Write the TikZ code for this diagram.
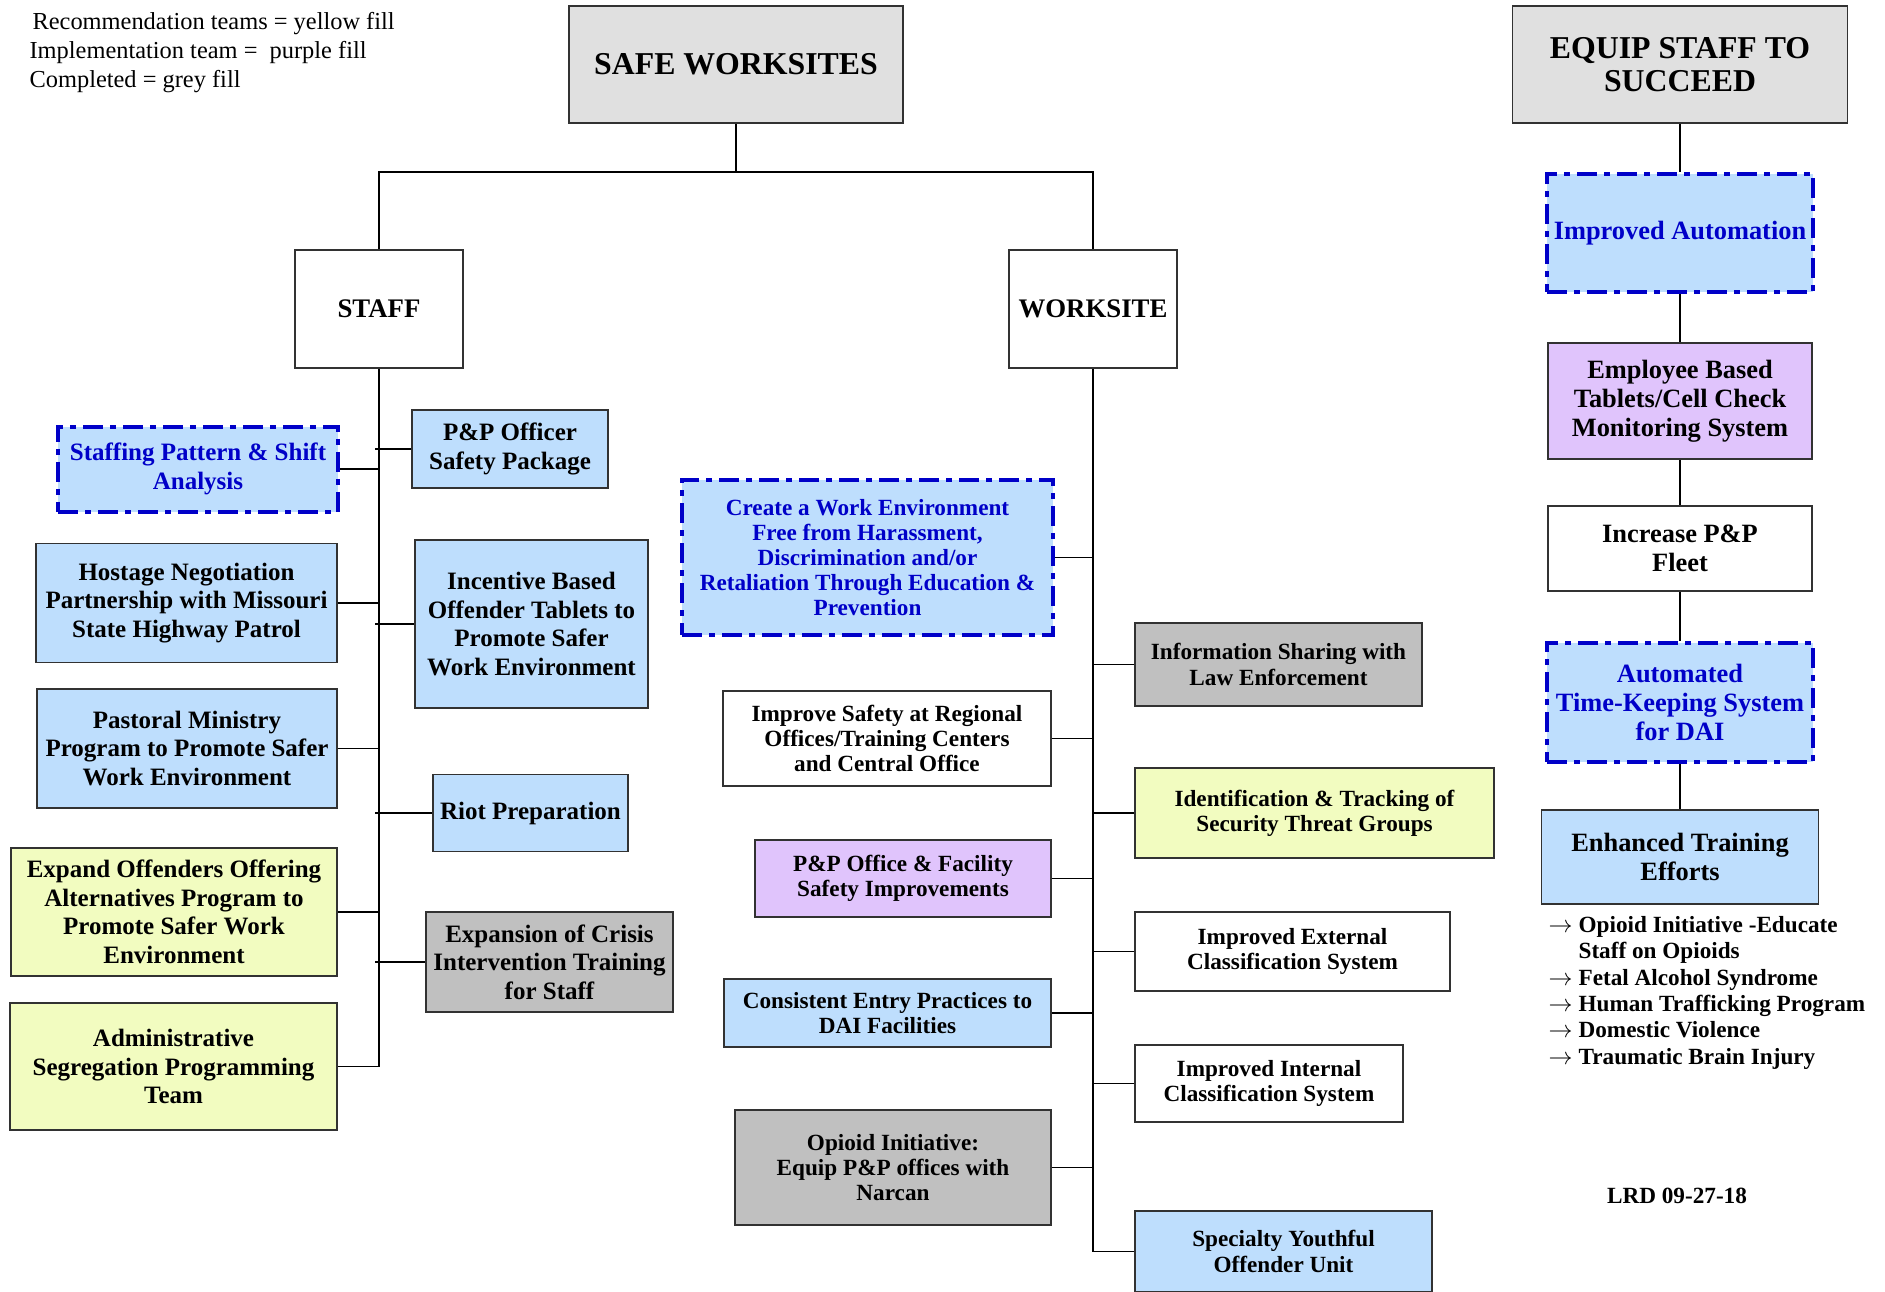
\documentclass[tikz,border=0pt]{standalone}
\usepackage{fontspec}
\setmainfont{Liberation Serif}
\usepackage{tikz}
\usetikzlibrary{positioning,calc}

\definecolor{recblue}{RGB}{190,222,253}
\definecolor{recyellow}{RGB}{242,252,192}
\definecolor{recpurple}{RGB}{224,196,252}
\definecolor{recdone}{RGB}{192,192,192}
\definecolor{headgrey}{RGB}{224,224,224}
\definecolor{planblue}{RGB}{0,0,200}
\definecolor{boxline}{RGB}{50,50,50}

\newcommand{\hdfont}{\fontsize{15.9}{16.8}\selectfont\bfseries}
\newcommand{\brfont}{\fontsize{13.4}{15}\selectfont\bfseries}
\newcommand{\stffont}{\fontsize{12.5}{14.3}\selectfont\bfseries}
\newcommand{\wsfont}{\fontsize{11.6}{12.6}\selectfont\bfseries}
\newcommand{\eqfont}{\fontsize{13.2}{14.4}\selectfont\bfseries}
\newcommand{\lstfont}{\fontsize{11.6}{13.2}\selectfont\bfseries}

\begin{document}
\begin{tikzpicture}[x=0.5pt, y=-0.5pt, semithick,
    wh/.style 2 args={minimum width=#1*0.5pt, minimum height=#2*0.5pt},
    box/.style={draw=boxline, line width=0.8pt, align=center, inner sep=1pt},
    head/.style={box, fill=headgrey, font=\hdfont},
    branch/.style={box, fill=white, font=\brfont},
    blue/.style={box, fill=recblue},
    yellow/.style={box, fill=recyellow},
    purple/.style={box, fill=recpurple},
    done/.style={box, fill=recdone},
    open/.style={box, fill=white},
    plan/.style={box, fill=recblue, draw=planblue, text=planblue, line width=2pt,
        dash pattern=on 10pt off 3.5pt on 3pt off 3.5pt},
    link/.style={draw=black, line width=0.75pt}]
        \useasboundingbox (0,0) rectangle (1885,1291);

        % legend
        \node[anchor=north west, align=left, inner sep=0pt,
              font=\fontsize{12.2}{14.5}\selectfont] (legend) at (29,11.6)
            {\hspace{1.5pt}Recommendation teams = yellow fill\\
             Implementation team = \ purple fill\\
             Completed = grey fill};

        % top of the chart
        \node[head, wh={334}{117}] (safe) at (736,64.5) {SAFE WORKSITES};
        \node[head, wh={335}{117}] (equip) at (1680,64.5) {EQUIP STAFF TO\\SUCCEED};
        \node[branch, wh={168}{118}] (staff) at (379,309) {STAFF};
        \node[branch, wh={168}{118}] (worksite) at (1093,309) {WORKSITE};
        \coordinate (bar) at (736,172);

        % staff side
        \node[plan, wh={280}{85}, font=\stffont] (shift) at (198,469) {Staffing Pattern \& Shift\\Analysis};
        \node[blue, wh={196}{78}, font=\stffont] (vest) at (510,449) {P\&P Officer\\Safety Package};
        \node[blue, wh={301}{119}, font=\stffont] (hostage) at (186.5,603) {Hostage Negotiation\\Partnership with Missouri\\State Highway Patrol};
        \node[blue, wh={233}{168}, font=\stffont] (tablets) at (531.5,624) {Incentive Based\\Offender Tablets to\\Promote Safer\\Work Environment};
        \node[blue, wh={300}{119}, font=\stffont] (pastor) at (187,748.5) {Pastoral Ministry\\Program to Promote Safer\\Work Environment};
        \node[blue, wh={195}{77}, font=\stffont] (riot) at (530.5,813) {Riot Preparation};
        \node[yellow, wh={326}{128}, font=\stffont] (offer) at (174,912) {Expand Offenders Offering\\Alternatives Program to\\Promote Safer Work\\Environment};
        \node[done, wh={247}{100}, font=\stffont] (crisis) at (549.5,962) {Expansion of Crisis\\Intervention Training\\for Staff};
        \node[yellow, wh={327}{127}, font=\stffont] (adseg) at (173.5,1066.5) {Administrative\\Segregation Programming\\Team};

        % worksite side
        \node[plan, wh={371}{155}, font=\wsfont] (harass) at (867.5,557.5) {Create a Work Environment\\Free from Harassment,\\Discrimination and/or\\Retaliation Through Education \&\\Prevention};
        \node[done, wh={287}{83}, font=\wsfont] (police) at (1278.5,664.5) {Information Sharing with\\Law Enforcement};
        \node[open, wh={328}{95}, font=\wsfont] (region) at (887,738.5) {Improve Safety at Regional\\Offices/Training Centers\\and Central Office};
        \node[yellow, wh={359}{90}, font=\wsfont] (gangs) at (1314.5,813) {Identification \& Tracking of\\Security Threat Groups};
        \node[purple, wh={296}{77}, font=\wsfont] (office) at (903,878.5) {P\&P Office \& Facility\\Safety Improvements};
        \node[open, wh={315}{79}, font=\wsfont] (extcls) at (1292.5,951.5) {Improved External\\Classification System};
        \node[blue, wh={327}{68}, font=\wsfont] (entry) at (887.5,1013) {Consistent Entry Practices to\\DAI Facilities};
        \node[open, wh={268}{77}, font=\wsfont] (intcls) at (1269,1083.5) {Improved Internal\\Classification System};
        \node[done, wh={316}{115}, font=\wsfont] (narcan) at (893,1167.5) {Opioid Initiative:\\Equip P\&P offices with\\Narcan};
        \node[blue, wh={297}{81}, font=\wsfont] (youth) at (1283.5,1251.5) {Specialty Youthful\\Offender Unit};

        % equip staff side
        \node[plan, wh={266}{118}, font=\eqfont] (autom) at (1680,233) {Improved Automation};
        \node[purple, wh={264}{116}, font=\eqfont] (cellchk) at (1680,401) {Employee Based\\Tablets/Cell Check\\Monitoring System};
        \node[open, wh={264}{85}, font=\eqfont] (fleet) at (1680,548.5) {Increase P\&P\\Fleet};
        \node[plan, wh={266}{119}, font=\eqfont] (clock) at (1680,702.5) {Automated\\Time-Keeping System\\for DAI};
        \node[blue, wh={277}{94}, font=\eqfont] (train) at (1680,857) {Enhanced Training\\Efforts};
        \node[anchor=north west, align=left, inner sep=0pt, font=\lstfont] (topics) at (1548,915.5)
            {$\rightarrow$\hspace{3pt}Opioid Initiative -Educate\\
             \phantom{$\rightarrow$}\hspace{3pt}Staff on Opioids\\
             $\rightarrow$\hspace{3pt}Fetal Alcohol Syndrome\\
             $\rightarrow$\hspace{3pt}Human Trafficking Program\\
             $\rightarrow$\hspace{3pt}Domestic Violence\\
             $\rightarrow$\hspace{3pt}Traumatic Brain Injury};
        \node[font=\lstfont] (stamp) at (1677,1196) {LRD 09-27-18};

        % connectors
        \draw[link] (safe.south) -- (bar);
        \draw[link] (staff.north) -- (staff.north |- bar) -- (worksite.north |- bar) -- (worksite.north);
        \draw[link] (staff.south) -- (staff.south |- adseg.east);
        \draw[link] (worksite.south) -- (worksite.south |- youth.west);
        \foreach \n in {shift,hostage,pastor,offer,adseg}
            \draw[link] (\n.east) -- (\n.east -| staff.south);
        \foreach \n in {vest,tablets,riot,crisis}
            \draw[link] (\n.west) -- (\n.west -| staff.south) -- ++(-4,0);
        \foreach \n in {harass,region,office,entry,narcan}
            \draw[link] (\n.east) -- (\n.east -| worksite.south);
        \foreach \n in {police,gangs,extcls,intcls,youth}
            \draw[link] (\n.west) -- (\n.west -| worksite.south);
        \path[link]
        (equip) edge (autom)
        (autom) edge (cellchk)
        (cellchk) edge (fleet)
        (fleet) edge (clock)
        (clock) edge (train);
\end{tikzpicture}
\end{document}
